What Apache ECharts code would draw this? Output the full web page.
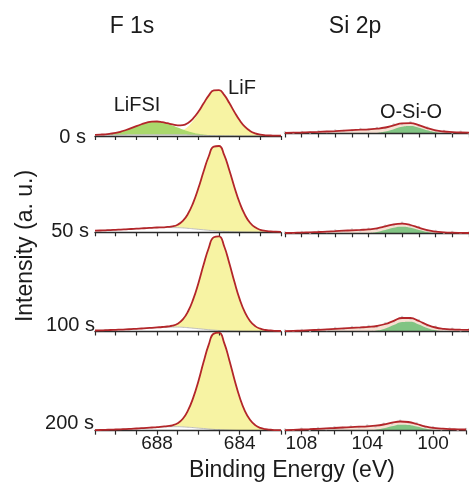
<!DOCTYPE html>
<html>
<head>
<meta charset="utf-8">
<script src="https://cdn.jsdelivr.net/npm/echarts@6/dist/echarts.min.js"></script>
<style>
  html, body { margin: 0; padding: 0; background: #ffffff; }
  #chart { width: 469px; height: 483px; }
</style>
</head>
<body>
<div id="chart"></div>
<script>
// Binding energies (eV) for the F 1s window, high to low
const energyF = [691, 690.75, 690.5, 690.25, 690, 689.75, 689.5, 689.25, 689, 688.75, 688.5, 688.25,
  688, 687.75, 687.5, 687.25, 687, 686.75, 686.5, 686.25, 686, 685.75, 685.5, 685.25,
  685, 684.75, 684.5, 684.25, 684, 683.75, 683.5, 683.25, 683, 682.75, 682.5, 682.25, 682];

// Binding energies (eV) for the Si 2p window, high to low
const energySi = [109, 108.5, 108, 107.5, 107, 106.5, 106, 105.5, 105, 104.5, 104, 103.5,
  103, 102.5, 102, 101.5, 101, 100.5, 100, 99.5, 99, 98.5, 98];

const etchTimes = ['0 s', '50 s', '100 s', '200 s'];
const fTickLabels = [688, 684];
const siTickLabels = [108, 104, 100];

// F 1s: background, LiF and LiFSI components (a. u.)
const fBackground0 = [1.0, 1.0, 1.0, 1.0, 1.0, 1.05, 1.1, 1.15, 1.2, 1.25, 1.3, 1.3, 1.3, 1.3, 1.3, 1.3, 1.3, 1.2, 1.1, 0.95,
  0.8, 0.65, 0.5, 0.4, 0.3, 0.2, 0.15, 0.1, 0.05, 0, 0, 0, 0, 0, 0, 0, 0];
const fLiFSI0 = [0.2, 0.4, 0.7, 1.3, 2.1, 3.3, 4.9, 6.7, 8.7, 10.5, 12.0, 12.9, 12.9, 12.2, 10.9, 9.1, 7.1, 5.2, 3.6, 2.4,
  1.4, 0.8, 0.4, 0.2, 0.1, 0, 0, 0, 0, 0, 0, 0, 0, 0, 0, 0, 0];
const fLiF0 = [0, 0, 0, 0, 0, 0, 0, 0, 0, 0, 0.1, 0.2, 0.3, 0.4, 0.6, 1.2, 2.3, 4.5, 8.3, 14.2,
  22.0, 31.0, 39.5, 45.0, 45.5, 40.9, 32.8, 23.8, 15.6, 9.3, 5.1, 2.6, 1.3, 0.7, 0.5, 0.3, 0.3];

const fBackground1 = [1.6, 1.8, 2.0, 2.2, 2.5, 2.7, 3.0, 3.3, 3.6, 3.9, 4.2, 4.4, 4.6, 4.7, 4.8, 4.7, 4.6, 4.4, 4.0, 3.5,
  3.0, 2.5, 2.0, 1.6, 1.2, 0.9, 0.6, 0.4, 0.3, 0.2, 0.1, 0.05, 0, 0, 0, 0, 0];
const fLiF1 = [0, 0, 0, 0, 0, 0, 0, 0, 0, 0, 0, 0.1, 0.2, 0.3, 0.6, 1.2, 3.0, 7.0, 14.5, 26.0,
  41.0, 58.0, 73.8, 84.1, 85.1, 76.5, 61.4, 44.5, 29.2, 17.4, 9.5, 4.9, 2.5, 1.4, 0.9, 0.6, 0.5];

const fBackground2 = [1.0, 1.1, 1.3, 1.5, 1.7, 1.9, 2.1, 2.4, 2.7, 3.0, 3.3, 3.6, 3.9, 4.1, 4.3, 4.4, 4.4, 4.2, 3.8, 3.3,
  2.8, 2.3, 1.8, 1.4, 1.0, 0.7, 0.5, 0.3, 0.2, 0.1, 0.05, 0, 0, 0, 0, 0, 0];
const fLiF2 = [0, 0, 0, 0, 0, 0, 0, 0, 0, 0, 0, 0.1, 0.2, 0.4, 0.7, 1.4, 3.4, 7.9, 16.2, 28.8,
  45.3, 64.1, 81.5, 92.9, 94.1, 84.5, 67.8, 49.1, 32.2, 19.2, 10.5, 5.4, 2.8, 1.5, 1.0, 0.6, 0.5];

const fBackground3 = [0.6, 0.7, 0.9, 1.0, 1.2, 1.4, 1.6, 1.9, 2.2, 2.5, 2.8, 3.1, 3.4, 3.7, 3.9, 4.0, 4.0, 3.8, 3.5, 3.1,
  2.6, 2.2, 1.7, 1.3, 1.0, 0.7, 0.5, 0.3, 0.2, 0.1, 0.05, 0, 0, 0, 0, 0, 0];
const fLiF3 = [0, 0, 0, 0, 0, 0, 0, 0, 0, 0, 0, 0.1, 0.2, 0.4, 0.7, 1.4, 3.5, 8.2, 16.8, 29.7,
  46.7, 66.2, 84.1, 95.8, 97.0, 87.1, 70.0, 50.7, 33.2, 19.8, 10.9, 5.6, 2.8, 1.6, 1.0, 0.6, 0.6];

// Si 2p: O-Si-O component, remaining background and measured counts (a. u.)
const siOSiO0 = [0, 0, 0, 0, 0, 0, 0, 0, 0, 0, 0.1, 0.6, 1.9, 4.3, 6.7, 7.4, 5.8, 3.2, 1.3, 0.4, 0.1, 0, 0];
const siBackground0 = [0.5, 0.8, 1.0, 1.3, 1.6, 2.0, 2.4, 2.9, 3.4, 3.8, 4.1, 4.2, 4.1, 3.8, 3.4, 3.0, 2.6, 2.2, 1.9, 1.6, 1.3, 1.0, 0.8];
const siRaw0 = [1.3, 0.4, 1.6, 0.9, 2.2, 1.5, 3.1, 2.5, 3.0, 4.6, 3.7, 5.5, 5.4, 8.9, 9.6, 11.2, 7.8, 6.1, 2.7, 2.6, 0.9, 1.7, 0.3];

const siOSiO1 = [0, 0, 0, 0, 0, 0, 0, 0, 0, 0.1, 0.4, 1.4, 3.3, 5.5, 6.5, 5.5, 3.3, 1.4, 0.4, 0.1, 0, 0, 0];
const siBackground1 = [0.3, 0.5, 0.7, 1.0, 1.3, 1.7, 2.1, 2.6, 3.0, 3.3, 3.5, 3.6, 3.6, 3.5, 3.2, 2.8, 2.3, 1.8, 1.3, 0.9, 0.6, 0.4, 0.3];
const siRaw1 = [0.9, 0.1, 1.3, 0.5, 1.9, 1.2, 2.8, 2.0, 3.7, 2.8, 4.6, 4.4, 7.6, 8.3, 10.5, 7.6, 6.3, 2.6, 2.4, 0.5, 1.2, 0.0, 0.8];

const siOSiO2 = [0, 0, 0, 0, 0, 0, 0, 0, 0, 0, 0.3, 1.1, 3.2, 6.6, 9.7, 10.0, 7.3, 3.8, 1.4, 0.4, 0.1, 0, 0];
const siBackground2 = [0.5, 0.8, 1.1, 1.5, 1.9, 2.4, 2.9, 3.4, 3.9, 4.3, 4.5, 4.6, 4.5, 4.3, 4.0, 3.7, 3.4, 3.1, 2.8, 2.5, 2.2, 2.0, 1.8];
const siRaw2 = [1.2, 0.3, 1.8, 0.9, 2.6, 1.8, 3.7, 2.8, 4.7, 3.6, 5.6, 5.0, 8.5, 10.2, 14.6, 12.9, 11.5, 6.2, 5.0, 2.2, 3.0, 1.4, 2.5];

const siOSiO3 = [0, 0, 0, 0, 0, 0, 0, 0, 0, 0, 0.2, 0.8, 2.2, 4.3, 5.8, 5.6, 3.9, 1.9, 0.6, 0.2, 0, 0, 0];
const siBackground3 = [0.4, 0.7, 1.0, 1.3, 1.7, 2.1, 2.5, 3.0, 3.4, 3.8, 4.0, 4.0, 3.8, 3.5, 3.2, 2.9, 2.6, 2.3, 2.0, 1.7, 1.4, 1.2, 1.0];
const siRaw3 = [1.1, 0.2, 1.7, 0.7, 2.4, 1.5, 3.2, 2.4, 4.1, 3.2, 5.0, 4.1, 6.8, 7.1, 9.8, 7.9, 7.2, 3.6, 3.3, 1.3, 2.1, 0.6, 1.6];

const fRows = [
  { bg: fBackground0, lif: fLiF0, lifsi: fLiFSI0 },
  { bg: fBackground1, lif: fLiF1, lifsi: null },
  { bg: fBackground2, lif: fLiF2, lifsi: null },
  { bg: fBackground3, lif: fLiF3, lifsi: null }
];
const siRows = [
  { bg: siBackground0, comp: siOSiO0, raw: siRaw0 },
  { bg: siBackground1, comp: siOSiO1, raw: siRaw1 },
  { bg: siBackground2, comp: siOSiO2, raw: siRaw2 },
  { bg: siBackground3, comp: siOSiO3, raw: siRaw3 }
];

// Layout: baseline (px) of each row in the two panels
const fBaselines = [136, 232.3, 331.5, 430.7];
const siBaselines = [133.5, 233.3, 331.7, 430.5];
const rowHeight = 100;

const FONT = "'Liberation Sans', Arial, Helvetica, sans-serif";
const TEXT = '#1b1b1b';
const AXIS = '#2b2b2b';
const ENVELOPE = '#b3262a';
const YELLOW = '#f7f3a3';
const LIGHT_GREEN = '#aad86c';
const SI_GREEN = '#74c17a';
const PEACH = '#f5dccb';

// point-wise sum of component curves sharing one energy grid
const sum = (...arrs) => arrs[0].map((_, i) => arrs.reduce((s, a) => s + (a ? a[i] : 0), 0));
const zip = (xs, ys) => xs.map((x, i) => [x, ys[i]]);

const grids = [], xAxes = [], yAxes = [], series = [];

function addAxes(gridIdx, left, width, top, min, max, labels, showLabels) {
  grids.push({ left: left, width: width, top: top, height: rowHeight, containLabel: false });
  xAxes.push({
    gridIndex: gridIdx, type: 'value', min: min, max: max, interval: 1, inverse: true, z: 3,
    axisLine: { show: true, onZero: false, lineStyle: { color: AXIS, width: 1.3 } },
    axisTick: { show: true, length: 4, lineStyle: { color: AXIS, width: 1.2 } },
    splitLine: { show: false },
    axisLabel: {
      show: showLabels, margin: 4, fontSize: 19, fontFamily: FONT, color: TEXT,
      formatter: v => (labels.indexOf(v) >= 0 ? String(v) : '')
    }
  });
  yAxes.push({ gridIndex: gridIdx, type: 'value', min: 0, max: 100, show: false });
}

function curve(g, xs, ys, opts) {
  return Object.assign({
    type: 'line', xAxisIndex: g, yAxisIndex: g, data: zip(xs, ys),
    showSymbol: false, symbol: 'none', smooth: true, silent: true, z: 2,
    lineStyle: { opacity: 0 }
  }, opts);
}

fRows.forEach((row, r) => {
  const g = grids.length;
  addAxes(g, 95, 186, fBaselines[r] - rowHeight, 682, 691, fTickLabels, r === 3);
  // LiF component on top of the background
  series.push(curve(g, energyF, sum(row.bg, row.lif), { name: 'LiF', areaStyle: { color: YELLOW, opacity: 1 } }));
  // LiFSI component on top of the background
  if (row.lifsi) {
    series.push(curve(g, energyF, sum(row.bg, row.lifsi), { name: 'LiFSI', areaStyle: { color: LIGHT_GREEN, opacity: 1 } }));
  }
  // background: clears the region below it and draws its own line
  series.push(curve(g, energyF, row.bg, {
    name: 'Background', areaStyle: { color: '#ffffff', opacity: 1 },
    lineStyle: { color: '#bdbdbd', width: 1 }
  }));
  // fitted envelope
  series.push(curve(g, energyF, sum(row.bg, row.lif, row.lifsi), {
    name: 'Envelope', z: 4, lineStyle: { color: ENVELOPE, width: 1.8 }
  }));
});

siRows.forEach((row, r) => {
  const g = grids.length;
  addAxes(g, 285, 186, siBaselines[r] - rowHeight, 98, 109, siTickLabels, r === 3);
  const env = sum(row.comp, row.bg);
  series.push(curve(g, energySi, env, { name: 'Background', areaStyle: { color: PEACH, opacity: 0.85 } }));
  series.push(curve(g, energySi, row.comp, { name: 'O-Si-O', areaStyle: { color: SI_GREEN, opacity: 0.9 } }));
  // measured counts
  series.push({
    type: 'scatter', xAxisIndex: g, yAxisIndex: g, data: zip(energySi, row.raw), silent: true, z: 3,
    symbol: 'circle', symbolSize: 2.5, itemStyle: { color: '#c6c6c6' }
  });
  series.push(curve(g, energySi, env, { name: 'Envelope', z: 4, lineStyle: { color: ENVELOPE, width: 1.8 } }));
});

const txt = (text, x, y, size, align, extra) => Object.assign({
  type: 'text', x: x, y: y, silent: true,
  style: { text: text, fontSize: size, fontFamily: FONT, fill: TEXT, align: align || 'center', verticalAlign: 'middle' }
}, extra || {});

const labelRight = [86, 89, 95, 94];
const labelY = [137, 231.5, 325.5, 423.5];

const graphic = [
  txt('F 1s', 132, 27, 23),
  txt('Si 2p', 355, 27, 23),
  txt('LiFSI', 137, 105, 20),
  txt('LiF', 242, 88, 20),
  txt('O-Si-O', 411, 112, 20),
  txt('Binding Energy (eV)', 292, 471, 23),
  txt('Intensity (a. u.)', 26, 246, 23, 'center', { rotation: Math.PI / 2 })
];
etchTimes.forEach((t, i) => graphic.push(txt(t, labelRight[i], labelY[i], 20, 'right')));

const chart = echarts.init(document.getElementById('chart'), null, { renderer: 'canvas' });
chart.setOption({
  animation: false,
  backgroundColor: '#ffffff',
  grid: grids,
  xAxis: xAxes,
  yAxis: yAxes,
  series: series,
  graphic: graphic
});
</script>
</body>
</html>
